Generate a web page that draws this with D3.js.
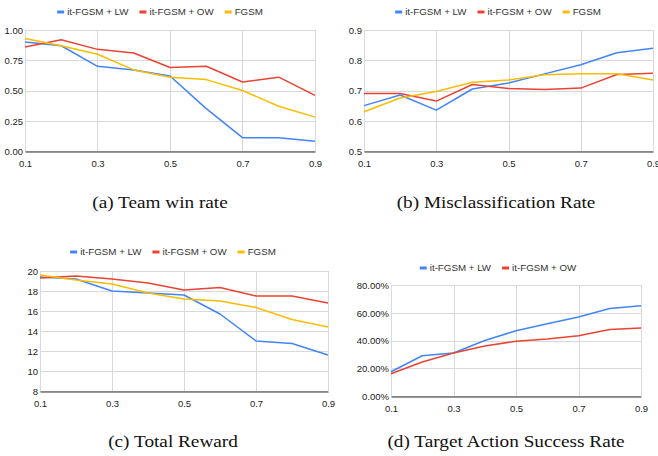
<!DOCTYPE html>
<html>
<head>
<meta charset="utf-8">
<script src="https://cdn.jsdelivr.net/npm/d3@7"></script>
<style>
  body { margin: 0; background: #fff; }
  svg { display: block; }
  .tick text { font-family: "Liberation Sans", Arial, sans-serif; font-size: 9.5px; fill: #222; }
  .legend text { font-family: "Liberation Sans", Arial, sans-serif; font-size: 9.75px; fill: #333; }
  .caption { font-family: "Liberation Serif", "Times New Roman", serif; font-size: 17.5px; fill: #111; }
</style>
</head>
<body>
<div id="chart"></div>
<script>
// x values shared by all panels
var eps = [0.1, 0.2, 0.3, 0.4, 0.5, 0.6, 0.7, 0.8, 0.9];
var xTicks = [0.1, 0.3, 0.5, 0.7, 0.9];

var seriesNames = ["it-FGSM + LW", "it-FGSM + OW", "FGSM"];
var colors = ["#4285F4", "#EA4335", "#FBBC04"];

// (a) team win rate
var winLW   = [0.90, 0.87, 0.70, 0.67, 0.62, 0.35, 0.11, 0.11, 0.08];
var winOW   = [0.86, 0.92, 0.84, 0.81, 0.69, 0.70, 0.57, 0.61, 0.46];
var winFGSM = [0.93, 0.87, 0.80, 0.67, 0.61, 0.59, 0.50, 0.37, 0.28];
var winTicks = [0, 0.25, 0.5, 0.75, 1];

// (b) misclassification rate
var misLW   = [0.650, 0.685, 0.635, 0.705, 0.725, 0.755, 0.785, 0.825, 0.840];
var misOW   = [0.690, 0.690, 0.665, 0.720, 0.707, 0.703, 0.708, 0.753, 0.757];
var misFGSM = [0.630, 0.675, 0.697, 0.727, 0.735, 0.752, 0.755, 0.755, 0.735];
var misTicks = [0.5, 0.6, 0.7, 0.8, 0.9];

// (c) total reward
var rewLW   = [19.4, 19.2, 18.0, 17.8, 17.6, 15.7, 13.0, 12.75, 11.6];
var rewOW   = [19.3, 19.5, 19.2, 18.8, 18.1, 18.35, 17.5, 17.5, 16.8];
var rewFGSM = [19.6, 19.1, 18.7, 17.8, 17.2, 17.0, 16.35, 15.15, 14.4];
var rewTicks = [8, 10, 12, 14, 16, 18, 20];

// (d) target action success rate
var tasLW = [0.175, 0.29, 0.31, 0.40, 0.47, 0.52, 0.57, 0.63, 0.65];
var tasOW = [0.16, 0.245, 0.31, 0.36, 0.395, 0.41, 0.435, 0.48, 0.49];
var tasTicks = [0, 0.2, 0.4, 0.6, 0.8];

var W = 658, H = 456;
var svg = d3.select("#chart").append("svg").attr("width", W).attr("height", H);

function panel(cfg) {
  var g = svg.append("g");
  var x = d3.scaleLinear().domain([0.1, 0.9]).range([cfg.left, cfg.right]);
  var y = d3.scaleLinear().domain(cfg.domain).range([cfg.bottom, cfg.top]);

  // horizontal grid
  g.append("g").selectAll("line").data(cfg.ticks).enter().append("line")
    .attr("x1", cfg.left).attr("x2", cfg.right)
    .attr("y1", function(d) { return Math.round(y(d)) + 0.5; })
    .attr("y2", function(d) { return Math.round(y(d)) + 0.5; })
    .attr("stroke", "#d9d9d9").attr("stroke-width", 1);
  // vertical grid
  g.append("g").selectAll("line").data(xTicks).enter().append("line")
    .attr("x1", function(d) { return Math.round(x(d)) + 0.5; })
    .attr("x2", function(d) { return Math.round(x(d)) + 0.5; })
    .attr("y1", cfg.top).attr("y2", cfg.bottom)
    .attr("stroke", "#d9d9d9").attr("stroke-width", 1);

  var yAxis = g.append("g").attr("transform", "translate(" + (cfg.left - 2) + ",0)")
    .call(d3.axisLeft(y).tickValues(cfg.ticks).tickFormat(d3.format(cfg.fmt)).tickSize(0));
  yAxis.select(".domain").remove();
  yAxis.selectAll("text").attr("dy", "0.35em").attr("x", 0);

  var xAxis = g.append("g").attr("transform", "translate(0," + (Math.round(cfg.bottom) + 0.5) + ")")
    .call(d3.axisBottom(x).tickValues(xTicks).tickFormat(d3.format(".1f")).tickSize(0));
  xAxis.select(".domain").attr("stroke", "#333").attr("stroke-width", 1);
  xAxis.selectAll("text").attr("y", 9);

  var line = d3.line().x(function(d, i) { return x(eps[i]); }).y(function(d) { return y(d); });
  cfg.series.forEach(function(s, i) {
    g.append("path").datum(s).attr("d", line)
      .attr("fill", "none").attr("stroke", colors[i]).attr("stroke-width", 1.5)
      .attr("stroke-linejoin", "round");
  });

  // legend, centred on cfg.legendX
  var lg = g.append("g").attr("class", "legend");
  var cx = 0;
  cfg.series.forEach(function(s, i) {
    var it = lg.append("g").attr("transform", "translate(" + cx + ",0)");
    it.append("line").attr("x1", 0).attr("x2", 7).attr("y1", 0).attr("y2", 0)
      .attr("stroke", colors[i]).attr("stroke-width", 3);
    var t = it.append("text").attr("x", 10).attr("dy", "0.35em").text(seriesNames[i]);
    cx += 10 + t.node().getComputedTextLength() + 11;
  });
  var lw = cx - 11;
  lg.attr("transform", "translate(" + (cfg.legendX - lw / 2) + "," + cfg.legendY + ")");

  // caption; the figure is a little stretched horizontally
  svg.append("text").attr("class", "caption")
    .attr("transform", "translate(" + cfg.capX + "," + cfg.capY + ") scale(1.1,1)")
    .attr("text-anchor", "middle").text(cfg.caption);
}

panel({ left: 25, right: 315, top: 30, bottom: 151, domain: [0, 1], ticks: winTicks, fmt: ".2f",
  series: [winLW, winOW, winFGSM], legendX: 160, legendY: 12,
  caption: "(a) Team win rate", capX: 160, capY: 208 });
panel({ left: 364, right: 653, top: 30, bottom: 151, domain: [0.5, 0.9], ticks: misTicks, fmt: ".1f",
  series: [misLW, misOW, misFGSM], legendX: 498, legendY: 12,
  caption: "(b) Misclassification Rate", capX: 496, capY: 208 });
panel({ left: 40, right: 328, top: 271, bottom: 391, domain: [8, 20], ticks: rewTicks, fmt: "d",
  series: [rewLW, rewOW, rewFGSM], legendX: 173, legendY: 252,
  caption: "(c) Total Reward", capX: 173, capY: 447 });
panel({ left: 391, right: 641, top: 285, bottom: 396, domain: [0, 0.8], ticks: tasTicks, fmt: ".2%",
  series: [tasLW, tasOW], legendX: 498, legendY: 268,
  caption: "(d) Target Action Success Rate", capX: 506, capY: 447 });
</script>
</body>
</html>
